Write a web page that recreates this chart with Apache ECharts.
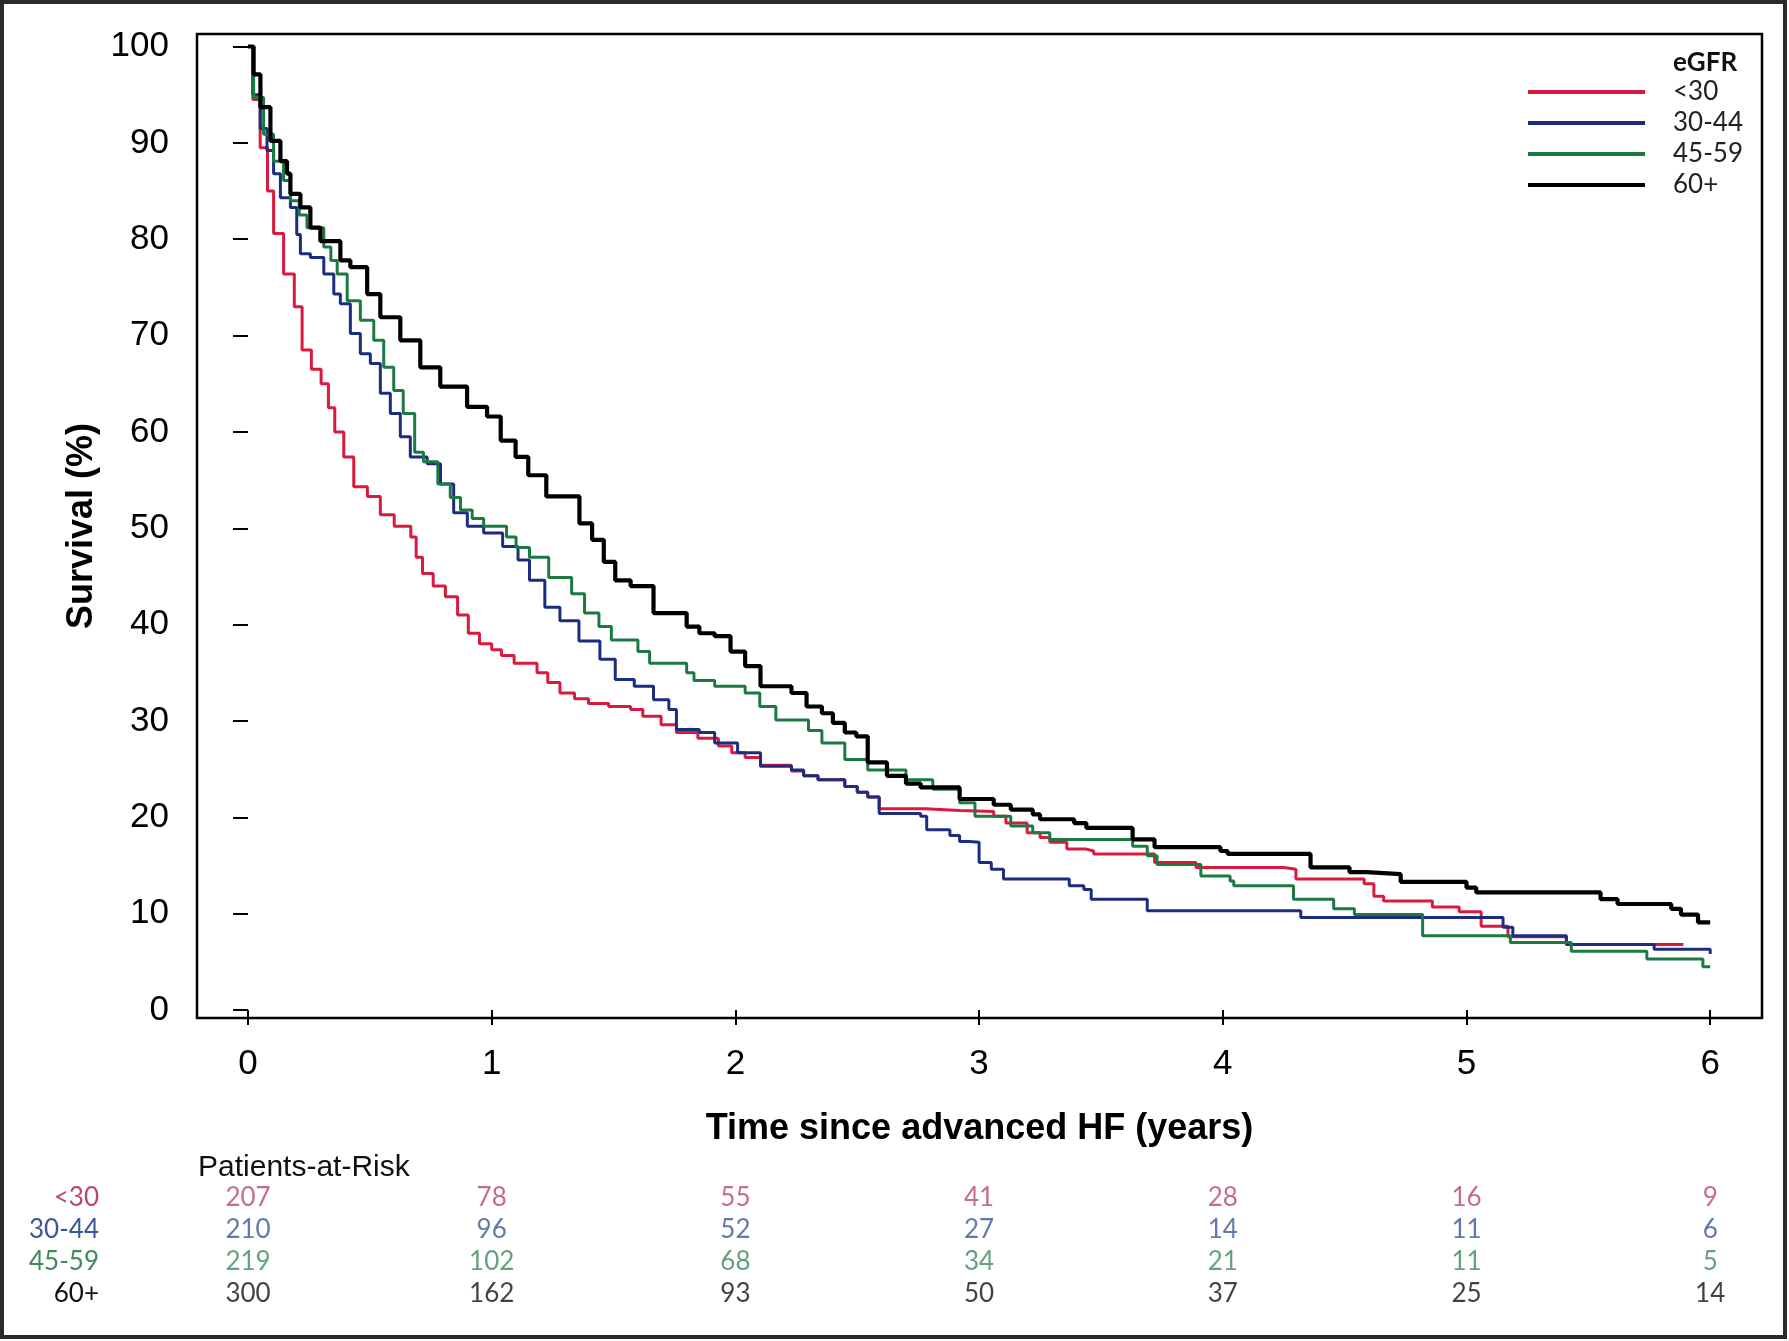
<!DOCTYPE html>
<html><head><meta charset="utf-8">
<script src="https://cdn.jsdelivr.net/npm/echarts@6/dist/echarts.min.js"></script>
<style>html,body{margin:0;padding:0;background:#fff}#c{width:1789px;height:1341px}</style>
</head><body><div id="c"></div>
<script>
const groupNames = ['<30', '30-44', '45-59', '60+'];
const xTicks = [0, 1, 2, 3, 4, 5, 6];
const yTicks = [0, 10, 20, 30, 40, 50, 60, 70, 80, 90, 100];

// Kaplan-Meier curves: [years, survival %] (value after each drop)
const survLt30 = [[0,100],[0.02,94.5],[0.05,89.5],[0.08,85],[0.105,80.6],[0.146,76.4],[0.19,73],[0.222,68.5],[0.26,66.5],[0.3,65],[0.33,62.5],[0.356,60],[0.393,57.4],[0.434,54.3],[0.49,53.3],[0.543,51.4],[0.6,50.2],[0.668,49.1],[0.69,47],[0.716,45.3],[0.76,44],[0.81,42.9],[0.86,41],[0.904,39.1],[0.95,38],[1.0,37.4],[1.04,36.8],[1.092,36],[1.186,35],[1.23,34],[1.28,32.9],[1.34,32.3],[1.397,31.8],[1.48,31.5],[1.57,31.2],[1.62,30.5],[1.695,29.6],[1.758,28.8],[1.846,28.2],[1.93,27.4],[1.985,26.7],[2.04,26.2],[2.103,25.4],[2.23,24.8],[2.28,24.3],[2.339,23.9],[2.449,23.2],[2.5,22.6],[2.543,22.1],[2.59,20.9],[2.78,20.7],[2.92,20.6],[3.06,20.1],[3.11,19.4],[3.197,18.4],[3.25,17.9],[3.29,17.4],[3.36,16.7],[3.44,16.5],[3.47,16.2],[3.72,15.3],[3.89,14.8],[4.25,14.6],[4.30,13.6],[4.58,13.1],[4.62,11.8],[4.66,11.3],[4.86,10.7],[4.97,10.2],[5.06,8.7],[5.17,7.6],[5.41,6.8],[5.89,6.8]];
const surv3044 = [[0,100],[0.02,95],[0.05,91.5],[0.078,89.2],[0.105,86.8],[0.133,84.3],[0.174,83.3],[0.2,80.5],[0.215,78.5],[0.256,78.1],[0.311,76.4],[0.352,74.3],[0.379,73.3],[0.42,70.2],[0.461,68.1],[0.502,67.1],[0.543,64],[0.584,61.9],[0.625,59.5],[0.666,57.4],[0.735,56.7],[0.79,54.6],[0.844,51.6],[0.9,50.2],[0.967,49.5],[1.045,48.1],[1.108,46.7],[1.155,44.6],[1.218,41.8],[1.28,40.4],[1.358,38.3],[1.444,36.4],[1.507,34.3],[1.585,33.6],[1.664,32.2],[1.727,31.2],[1.758,29.1],[1.852,28.8],[1.915,27.7],[2.009,26.7],[2.103,25.3],[2.23,24.9],[2.28,24.3],[2.339,23.9],[2.449,23.2],[2.5,22.6],[2.543,22.1],[2.59,20.4],[2.76,20.1],[2.785,18.7],[2.88,18.1],[2.92,17.5],[2.96,17.4],[3.0,15.3],[3.05,14.6],[3.1,13.6],[3.37,12.9],[3.43,12.5],[3.46,11.5],[3.69,10.3],[4.32,9.6],[5.15,8.6],[5.19,7.7],[5.41,6.8],[5.77,6.3],[6.0,5.8]];
const surv4559 = [[0,100],[0.023,94.7],[0.064,90.9],[0.105,88.1],[0.146,86.1],[0.174,84],[0.21,82.5],[0.242,81.2],[0.311,79.2],[0.34,77.8],[0.366,76.4],[0.407,73.6],[0.461,71.6],[0.516,69.5],[0.557,66.7],[0.598,64.3],[0.637,61.9],[0.684,57.9],[0.72,56.9],[0.779,54.6],[0.83,53.2],[0.872,51.9],[0.92,51],[0.967,50.2],[1.061,49.1],[1.1,48],[1.155,47],[1.234,44.9],[1.328,43.2],[1.381,41.2],[1.44,39.8],[1.491,38.4],[1.6,37.2],[1.648,36],[1.8,35],[1.83,34.2],[1.915,33.6],[2.04,32.9],[2.1,31.5],[2.166,30.1],[2.3,29],[2.355,27.7],[2.449,26],[2.543,24.9],[2.7,23.9],[2.81,22.9],[2.92,21.5],[2.983,20.1],[3.13,19.1],[3.22,18.4],[3.29,17.7],[3.63,17],[3.69,16],[3.73,15.1],[3.91,13.9],[4.03,13.4],[4.045,12.9],[4.29,11.5],[4.455,10.5],[4.54,9.9],[4.82,7.7],[5.18,7.0],[5.43,6.1],[5.74,5.3],[5.97,4.5],[6.0,4.5]];
const surv60 = [[0,100],[0.023,97.1],[0.051,93.7],[0.092,90.2],[0.133,88.1],[0.16,86.8],[0.174,84.7],[0.215,83.3],[0.256,81.2],[0.297,79.8],[0.379,77.8],[0.42,77.1],[0.489,74.3],[0.543,71.9],[0.625,69.5],[0.707,66.7],[0.789,64.7],[0.899,62.6],[0.981,61.6],[1.037,59.1],[1.098,57.4],[1.15,55.5],[1.224,53.3],[1.36,50.5],[1.412,48.8],[1.46,46.5],[1.507,44.6],[1.57,44],[1.664,41.2],[1.8,39.8],[1.852,39.1],[1.915,38.8],[1.98,37.2],[2.04,35.7],[2.103,33.6],[2.23,32.9],[2.292,31.5],[2.355,30.8],[2.4,29.8],[2.449,28.8],[2.496,28.4],[2.543,25.7],[2.622,24.3],[2.7,23.5],[2.76,23.1],[2.92,21.9],[3.06,21.3],[3.13,20.8],[3.22,20.3],[3.25,19.8],[3.39,19.4],[3.44,18.9],[3.63,17.7],[3.72,16.9],[3.99,16.5],[4.02,16.2],[4.36,14.8],[4.52,14.3],[4.59,14.1],[4.73,13.3],[5.0,12.7],[5.04,12.2],[5.55,11.5],[5.62,11.0],[5.84,10.5],[5.88,9.9],[5.95,9.1],[6.0,9.1]];

// Patients-at-risk table
const riskTimes = [0, 1, 2, 3, 4, 5, 6];
const riskLt30 = [207, 78, 55, 41, 28, 16, 9];
const risk3044 = [210, 96, 52, 27, 14, 11, 6];
const risk4559 = [219, 102, 68, 34, 21, 11, 5];
const risk60 = [300, 162, 93, 50, 37, 25, 14];

const survData = [survLt30, surv3044, surv4559, surv60];
const riskData = [riskLt30, risk3044, risk4559, risk60];
const lineColors = ['#d81a3c', '#1c2d80', '#1b7a42', '#000000'];
const lineWidths = [3, 3, 3, 4.2];
const tableColors = ['#b8496a', '#3a5898', '#3d8a5c', '#111111'];

const X0 = 248, XPER = 243.7, FL = 197, FR = 1762;
const Y0 = 1010, YPER = 9.635, FT = 34, FB = 1018;
const xMin = -(X0 - FL) / XPER, xMax = 6 + (FR - 248 - 6 * XPER) / XPER;
const yMax = 100 + ((Y0 - 100 * YPER) - FT) / YPER, yMin = -(FB - Y0) / YPER;

const sansA = 'Liberation Sans, Arial, sans-serif';
const sansB = 'Lato, Open Sans, sans-serif';

const series = [];
survData.forEach((d, i) => {
  series.push({
    name: groupNames[i], type: 'line', step: 'end', data: d,
    xAxisIndex: 0, yAxisIndex: 0, symbol: 'none', showSymbol: false,
    lineStyle: { color: lineColors[i], width: lineWidths[i] },
    itemStyle: { color: lineColors[i] }, z: 2 + i, silent: true
  });
});
riskData.forEach((r, i) => {
  series.push({
    name: 'risk' + i, type: 'scatter', xAxisIndex: 1, yAxisIndex: 1,
    symbolSize: 1, itemStyle: { color: 'rgba(0,0,0,0)' }, silent: true,
    data: riskTimes.map((t, j) => [t, groupNames[i], r[j]]),
    label: { show: true, position: 'inside', formatter: p => String(p.value[2]),
      color: tableColors[i], fontFamily: sansB, fontSize: 26 }
  });
});

const chart = echarts.init(document.getElementById('c'), null, { renderer: 'canvas' });
chart.setOption({
  animation: false,
  backgroundColor: '#ffffff',
  title: { text: 'Patients-at-Risk', left: 198, top: 1153, padding: 0,
    textStyle: { fontFamily: sansA, fontSize: 30, fontWeight: 'normal', color: '#111' } },
  legend: {
    data: groupNames, orient: 'vertical', left: 1528, top: 79, padding: 0,
    icon: 'rect', itemWidth: 117, itemHeight: 4, itemGap: 5,
    textStyle: { fontFamily: sansB, fontSize: 26, color: '#222', padding: [0, 0, 0, 23] }
  },
  grid: [
    { left: FL, top: FT, width: FR - FL, height: FB - FT, show: true,
      borderColor: '#000', borderWidth: 2.5, backgroundColor: '#fff' },
    { left: FL, top: 1182, width: FR - FL, height: 127, show: false }
  ],
  xAxis: [
    { type: 'value', gridIndex: 0, min: xMin, max: xMax,
      name: 'Time since advanced HF (years)', nameLocation: 'middle', nameGap: 93,
      nameTextStyle: { fontFamily: sansA, fontSize: 36, fontWeight: 'bold', color: '#000' },
      axisLine: { show: false }, splitLine: { show: false },
      axisTick: { show: true, length: 15, customValues: xTicks, lineStyle: { color: '#000', width: 2 } },
      axisLabel: { customValues: xTicks, margin: 29, fontFamily: sansA, fontSize: 35, color: '#000' } },
    { type: 'value', gridIndex: 1, min: xMin, max: xMax, show: false }
  ],
  yAxis: [
    { type: 'value', gridIndex: 0, min: yMin, max: yMax,
      name: 'Survival (%)', nameLocation: 'middle', nameGap: 95,
      nameTextStyle: { fontFamily: sansA, fontSize: 36, fontWeight: 'bold', color: '#000' },
      axisLine: { show: false }, splitLine: { show: false },
      axisTick: { show: true, length: 15, customValues: yTicks, lineStyle: { color: '#000', width: 2 } },
      axisLabel: { customValues: yTicks, margin: 28, fontFamily: sansA, fontSize: 35, color: '#000' } },
    { type: 'category', gridIndex: 1, data: groupNames, inverse: true,
      axisLine: { show: false }, axisTick: { show: false }, splitLine: { show: false },
      axisLabel: { interval: 0, margin: 98, fontFamily: sansB, fontSize: 26,
        color: (v, i) => tableColors[groupNames.indexOf(v)] } }
  ],
  graphic: [
    { type: 'text', left: 1673, top: 50, style: { text: 'eGFR', fontFamily: sansB, fontSize: 26, fontWeight: 'bold', fill: '#111' } },
    { type: 'rect', shape: { x: 2, y: 2, width: 1783, height: 1335 }, style: { fill: 'none', stroke: '#2a2a2a', lineWidth: 4 }, z: 100 }
  ],
  series: series
});
</script></body></html>
